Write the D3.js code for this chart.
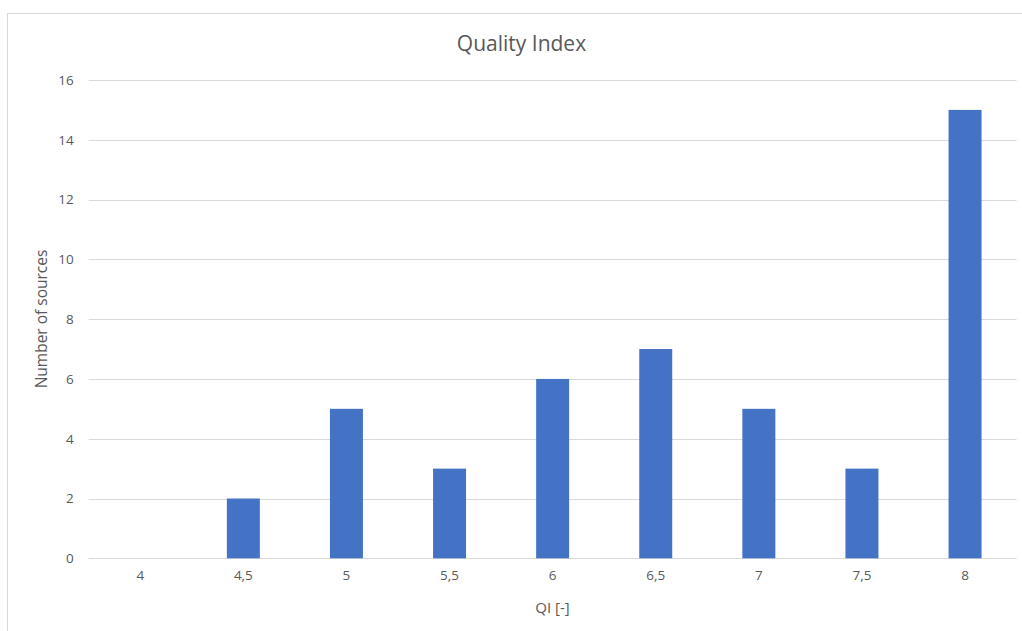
<!DOCTYPE html>
<html>
<head>
<meta charset="utf-8">
<script src="https://cdn.jsdelivr.net/npm/d3@7/dist/d3.min.js"></script>
<style>
  html, body { margin: 0; padding: 0; background: #fff; }
  svg, svg text { font-family: "Open Sans", "Liberation Sans", sans-serif; }
  svg { display: block; }
</style>
</head>
<body>
<svg id="chart" width="1022" height="631"></svg>
<script>
// Histogram of source quality index values
const categories = ["4", "4,5", "5", "5,5", "6", "6,5", "7", "7,5", "8"];
const counts = [0, 2, 5, 3, 6, 7, 5, 3, 15];
const yTicks = [0, 2, 4, 6, 8, 10, 12, 14, 16];

const title = "Quality Index";
const xTitle = "QI [-]";
const yTitle = "Number of sources";

const svg = d3.select("#chart");
const W = 1022, H = 631;
const plot = { left: 88.7, right: 1016.6, top: 80, bottom: 558.3 };

// Chart-area frame
svg.append("rect")
  .attr("x", 7.5).attr("y", 13.5)
  .attr("width", W + 10).attr("height", H + 10)
  .attr("fill", "#fff")
  .attr("stroke", "#d9d9d9").attr("stroke-width", 1);

const x = d3.scaleBand()
  .domain(categories)
  .range([plot.left, plot.right])
  .paddingInner(0.68)
  .paddingOuter(0.34);

const y = d3.scaleLinear()
  .domain([0, 16])
  .range([plot.bottom, plot.top]);

// Horizontal gridlines
svg.append("g")
  .selectAll("line")
  .data(yTicks)
  .join("line")
  .attr("x1", plot.left).attr("x2", plot.right)
  .attr("y1", d => Math.round(y(d)) + 0.5)
  .attr("y2", d => Math.round(y(d)) + 0.5)
  .attr("stroke", "#d9d9d9").attr("stroke-width", 1);

// Y axis labels
const yAxis = d3.axisLeft(y).tickValues(yTicks).tickSize(0).tickPadding(0);
const yg = svg.append("g")
  .attr("transform", `translate(${plot.left - 15},0)`)
  .call(yAxis)
  .attr("font-family", null)
  .attr("font-size", null);
yg.select(".domain").remove();
yg.selectAll("text")
  .attr("fill", "#595959")
  .style("font-size", "13.5px");

// Bars
svg.append("g")
  .selectAll("rect")
  .data(categories.map((c, i) => ({ c, v: counts[i] })))
  .join("rect")
  .attr("x", d => x(d.c))
  .attr("width", x.bandwidth())
  .attr("y", d => y(d.v))
  .attr("height", d => y(0) - y(d.v))
  .attr("fill", "#4472c4");

// X axis labels
const xAxis = d3.axisBottom(x).tickSize(0).tickPadding(0);
const xg = svg.append("g")
  .attr("transform", `translate(0,${plot.bottom + 12})`)
  .call(xAxis)
  .attr("font-family", null)
  .attr("font-size", null);
xg.select(".domain").remove();
xg.selectAll("text")
  .attr("fill", "#595959")
  .style("font-size", "13.5px");

// Titles
svg.append("text")
  .attr("x", 521.5)
  .attr("y", 51)
  .attr("text-anchor", "middle")
  .attr("fill", "#595959")
  .style("font-size", "21px")
  .text(title);

svg.append("text")
  .attr("x", 552.5)
  .attr("y", 613)
  .attr("text-anchor", "middle")
  .attr("fill", "#595959")
  .style("font-size", "15px")
  .text(xTitle);

svg.append("text")
  .attr("transform", `translate(47,319) rotate(-90)`)
  .attr("text-anchor", "middle")
  .attr("fill", "#595959")
  .style("font-size", "15.5px")
  .text(yTitle);
</script>
</body>
</html>
